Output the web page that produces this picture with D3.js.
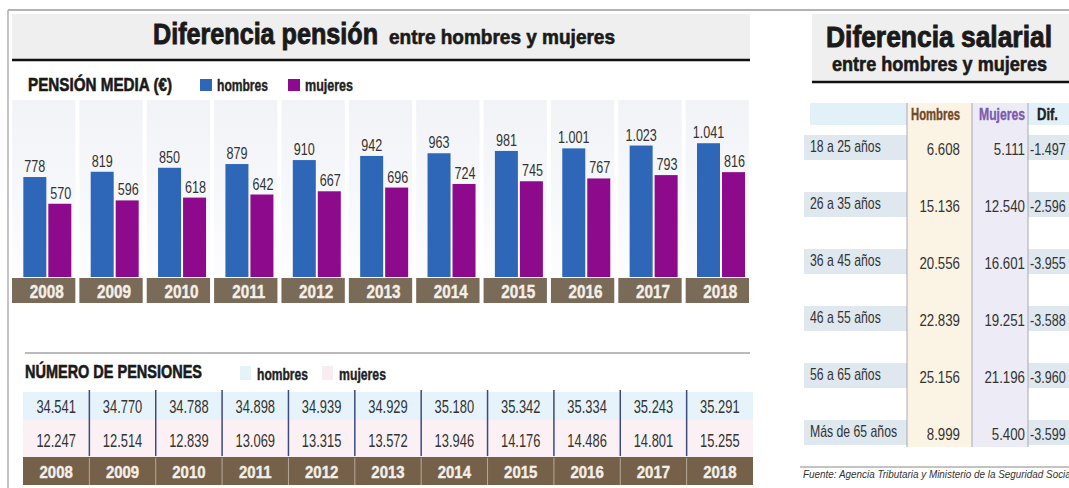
<!DOCTYPE html>
<html>
<head>
<meta charset="utf-8">
<script src="https://cdn.jsdelivr.net/npm/d3@7"></script>
<style>
  body { margin: 0; background: #fff; }
  svg { display: block; }
  text { font-family: "Liberation Sans", Arial, sans-serif; }
  .heavy { stroke: #1a1a1a; stroke-width: 0.9; paint-order: stroke; }
  .semi { stroke-width: 0.4; paint-order: stroke; }
</style>
</head>
<body>
<svg id="svg" width="1069" height="488"></svg>
<script>
// Datos
var years = [2008, 2009, 2010, 2011, 2012, 2013, 2014, 2015, 2016, 2017, 2018];
var pensionHombres = [778, 819, 850, 879, 910, 942, 963, 981, 1001, 1023, 1041];
var pensionMujeres = [570, 596, 618, 642, 667, 696, 724, 745, 767, 793, 816];
var numHombres = [34541, 34770, 34788, 34898, 34939, 34929, 35180, 35342, 35334, 35243, 35291];
var numMujeres = [12247, 12514, 12839, 13069, 13315, 13572, 13946, 14176, 14486, 14801, 15255];

var ageGroups = ["18 a 25 años", "26 a 35 años", "36 a 45 años", "46 a 55 años", "56 a 65 años", "Más de 65 años"];
var salHombres = [6608, 15136, 20556, 22839, 25156, 8999];
var salMujeres = [5111, 12540, 16601, 19251, 21196, 5400];
var salDif = [-1497, -2596, -3955, -3588, -3960, -3599];

var es = d3.formatLocale({decimal: ",", thousands: ".", grouping: [3], currency: ["", "€"], minus: "-"});
var fmt = es.format(",d");

var svg = d3.select("svg");
var BLUE = "#2f67b8", PURPLE = "#8e0a8c", BROWN = "#7a6a58";

// estrecha el texto (la fuente original es condensada)
function squeeze(sel, k) {
    sel.each(function () {
        var l = this.getComputedTextLength();
        d3.select(this).attr("textLength", l * k).attr("lengthAdjust", "spacingAndGlyphs");
    });
    return sel;
}
// ajusta el texto a un ancho fijo
function fit(sel, w) {
    return sel.attr("textLength", w).attr("lengthAdjust", "spacingAndGlyphs");
}

// Marco
svg.append("line").attr("x1", 8).attr("x2", 1069).attr("y1", 10).attr("y2", 10)
    .attr("stroke", "#9a9a9a").attr("stroke-width", 1.5);
svg.append("line").attr("x1", 8).attr("x2", 8).attr("y1", 10).attr("y2", 488)
    .attr("stroke", "#b0b0b0").attr("stroke-width", 1.5);

/*
 TITULO IZQUIERDA
 */
svg.append("rect").attr("x", 12).attr("y", 14).attr("width", 738).attr("height", 46).attr("fill", "#efefef");
svg.append("line").attr("x1", 12).attr("x2", 750).attr("y1", 60).attr("y2", 60)
    .attr("stroke", "#111").attr("stroke-width", 2.5);
fit(svg.append("text").attr("class", "heavy").attr("x", 153).attr("y", 44).attr("font-size", 29).attr("font-weight", "bold")
    .attr("fill", "#1a1a1a").text("Diferencia pensión"), 225);
fit(svg.append("text").attr("class", "heavy").attr("x", 389).attr("y", 44).attr("font-size", 20).attr("font-weight", "bold")
    .attr("fill", "#1a1a1a").style("stroke-width", 0.6).text("entre hombres y mujeres"), 226);

// Leyenda pension media
fit(svg.append("text").attr("class", "heavy").attr("x", 28).attr("y", 91).attr("font-size", 19).attr("font-weight", "bold")
    .attr("fill", "#1a1a1a").style("stroke-width", 0.6).text("PENSIÓN MEDIA (€)"), 144);
var leg = [{c: BLUE, t: "hombres", x: 200, w: 51}, {c: PURPLE, t: "mujeres", x: 288, w: 48}];
leg.forEach(function (d) {
    svg.append("rect").attr("x", d.x).attr("y", 79).attr("width", 12).attr("height", 12).attr("fill", d.c);
    fit(svg.append("text").attr("class", "semi").attr("x", d.x + 17).attr("y", 91).attr("font-size", 16).attr("font-weight", "bold")
        .attr("fill", "#222").attr("stroke", "#222").text(d.t), d.w);
});

/*
 BARRAS
 */
var x = d3.scaleBand().domain(years).range([12, 749]).paddingInner(0.06);
var xIn = d3.scaleBand().domain(["h", "m"]).range([x.bandwidth() - 52, x.bandwidth() - 4]).paddingInner(0.08);
var y = d3.scaleLinear().domain([0, 1000]).range([277, 148.5]);

var defs = svg.append("defs");
var grad = defs.append("linearGradient").attr("id", "colbg").attr("x1", 0).attr("x2", 0).attr("y1", 0).attr("y2", 1);
grad.append("stop").attr("offset", "0%").attr("stop-color", "#f2f3f7");
grad.append("stop").attr("offset", "45%").attr("stop-color", "#f6f7fa");
grad.append("stop").attr("offset", "100%").attr("stop-color", "#fdfdfe");

var groups = svg.append("g").selectAll("g").data(years).join("g")
    .attr("transform", function (d) { return "translate(" + x(d) + ",0)"; });

groups.append("rect").attr("x", 0).attr("y", 100).attr("width", x.bandwidth()).attr("height", 178)
    .attr("fill", "url(#colbg)");

groups.append("rect").attr("x", xIn("h")).attr("width", xIn.bandwidth())
    .attr("y", function (d, i) { return y(pensionHombres[i]); })
    .attr("height", function (d, i) { return y(0) - y(pensionHombres[i]); })
    .attr("fill", BLUE);
groups.append("rect").attr("x", xIn("m")).attr("width", xIn.bandwidth())
    .attr("y", function (d, i) { return y(pensionMujeres[i]); })
    .attr("height", function (d, i) { return y(0) - y(pensionMujeres[i]); })
    .attr("fill", PURPLE);

squeeze(groups.append("text").attr("x", xIn("h") + xIn.bandwidth() / 2).attr("text-anchor", "middle")
    .attr("y", function (d, i) { return y(pensionHombres[i]) - 5; })
    .attr("font-size", 17).attr("fill", "#333")
    .text(function (d, i) { return fmt(pensionHombres[i]); }), 0.74);
squeeze(groups.append("text").attr("x", xIn("m") + xIn.bandwidth() / 2 + 1).attr("text-anchor", "middle")
    .attr("y", function (d, i) { return y(pensionMujeres[i]) - 5; })
    .attr("font-size", 17).attr("fill", "#333")
    .text(function (d, i) { return fmt(pensionMujeres[i]); }), 0.74);

groups.append("rect").attr("x", 0).attr("y", 278).attr("width", x.bandwidth()).attr("height", 25).attr("fill", BROWN);
squeeze(groups.append("text").attr("class", "semi").attr("x", x.bandwidth() / 2 + 3).attr("y", 298).attr("text-anchor", "middle")
    .attr("font-size", 18).attr("font-weight", "bold").attr("fill", "#f3efe9").attr("stroke", "#f3efe9")
    .text(function (d) { return d; }), 0.85);

/*
 NUMERO DE PENSIONES
 */
svg.append("line").attr("x1", 25).attr("x2", 750).attr("y1", 353).attr("y2", 353)
    .attr("stroke", "#777").attr("stroke-width", 1);
fit(svg.append("text").attr("class", "heavy").attr("x", 25).attr("y", 378).attr("font-size", 19).attr("font-weight", "bold")
    .attr("fill", "#1a1a1a").style("stroke-width", 0.6).text("NÚMERO DE PENSIONES"), 177);
var leg2 = [{c: "#e4f2fa", t: "hombres", x: 240, w: 51}, {c: "#f8eef1", t: "mujeres", x: 322, w: 47}];
leg2.forEach(function (d) {
    svg.append("rect").attr("x", d.x).attr("y", 366).attr("width", 11).attr("height", 14).attr("fill", d.c);
    fit(svg.append("text").attr("class", "semi").attr("x", d.x + 17).attr("y", 380).attr("font-size", 16).attr("font-weight", "bold")
        .attr("fill", "#222").attr("stroke", "#222").text(d.t), d.w);
});

var x2 = d3.scaleBand().domain(years).range([23, 753]);
svg.append("rect").attr("x", 23).attr("y", 392).attr("width", 730).attr("height", 28).attr("fill", "#e6f3fb");
svg.append("rect").attr("x", 23).attr("y", 420).attr("width", 730).attr("height", 37).attr("fill", "#fbf1f4");
svg.append("rect").attr("x", 23).attr("y", 457).attr("width", 730).attr("height", 28).attr("fill", "#75614a");

var cells = svg.append("g").selectAll("g").data(years).join("g")
    .attr("transform", function (d) { return "translate(" + x2(d) + ",0)"; });
cells.filter(function (d, i) { return i > 0; }).append("line")
    .attr("x1", 0).attr("x2", 0).attr("y1", 390).attr("y2", 456)
    .attr("stroke", "#3d4a7e").attr("stroke-width", 1.5);
cells.filter(function (d, i) { return i > 0; }).append("line")
    .attr("x1", 0).attr("x2", 0).attr("y1", 458).attr("y2", 485)
    .attr("stroke", "#b7aa98").attr("stroke-width", 1);
squeeze(cells.append("text").attr("x", x2.bandwidth() / 2).attr("y", 413).attr("text-anchor", "middle")
    .attr("font-size", 19).attr("fill", "#333")
    .text(function (d, i) { return fmt(numHombres[i]); }), 0.68);
squeeze(cells.append("text").attr("x", x2.bandwidth() / 2).attr("y", 447).attr("text-anchor", "middle")
    .attr("font-size", 19).attr("fill", "#333")
    .text(function (d, i) { return fmt(numMujeres[i]); }), 0.68);
squeeze(cells.append("text").attr("class", "semi").attr("x", x2.bandwidth() / 2).attr("y", 478).attr("text-anchor", "middle")
    .attr("font-size", 17).attr("font-weight", "bold").attr("fill", "#f3efe9").attr("stroke", "#f3efe9")
    .text(function (d) { return d; }), 0.88);

/*
 DIFERENCIA SALARIAL (derecha)
 */
svg.append("rect").attr("x", 812).attr("y", 14).attr("width", 257).attr("height", 68).attr("fill", "#efefef");
svg.append("line").attr("x1", 812).attr("x2", 1069).attr("y1", 82).attr("y2", 82)
    .attr("stroke", "#111").attr("stroke-width", 2.5);
fit(svg.append("text").attr("class", "heavy").attr("x", 826).attr("y", 47).attr("font-size", 29)
    .attr("font-weight", "bold").attr("fill", "#1a1a1a").text("Diferencia salarial"), 226);
fit(svg.append("text").attr("class", "heavy").attr("x", 832).attr("y", 71).attr("font-size", 21)
    .attr("font-weight", "bold").attr("fill", "#1a1a1a").style("stroke-width", 0.6).text("entre hombres y mujeres"), 215);

var ry = d3.scaleBand().domain(ageGroups).range([135, 445]).paddingInner(0.561);

svg.append("rect").attr("x", 810).attr("y", 103).attr("width", 259).attr("height", 22).attr("fill", "#e2f0f8");
svg.selectAll(".rowbg").data(ageGroups).join("rect").attr("class", "rowbg")
    .attr("x", 804).attr("width", 265).attr("y", function (d) { return ry(d); })
    .attr("height", ry.bandwidth()).attr("fill", "#dfe7ef");
svg.append("rect").attr("x", 907).attr("y", 103).attr("width", 65).attr("height", 344).attr("fill", "#fbf3e3");
svg.append("rect").attr("x", 972).attr("y", 103).attr("width", 56).attr("height", 344).attr("fill", "#ecebf6");
[907, 972, 1028].forEach(function (lx) {
    svg.append("line").attr("x1", lx).attr("x2", lx).attr("y1", 103).attr("y2", 447)
        .attr("stroke", "#a9a9b4").attr("stroke-width", 1);
});

fit(svg.append("text").attr("class", "semi").attr("x", 911).attr("y", 120).attr("font-size", 16)
    .attr("font-weight", "bold").attr("fill", "#6e4a2b").attr("stroke", "#6e4a2b").text("Hombres"), 49);
fit(svg.append("text").attr("class", "semi").attr("x", 979).attr("y", 120).attr("font-size", 16)
    .attr("font-weight", "bold").attr("fill", "#7b5cae").attr("stroke", "#7b5cae").text("Mujeres"), 46);
fit(svg.append("text").attr("class", "semi").attr("x", 1037).attr("y", 120).attr("font-size", 16)
    .attr("font-weight", "bold").attr("fill", "#222").attr("stroke", "#222").text("Dif."), 21);

var rows = svg.append("g").selectAll("g").data(ageGroups).join("g")
    .attr("transform", function (d) { return "translate(0," + ry(d) + ")"; });
squeeze(rows.append("text").attr("x", 810).attr("y", 17).attr("font-size", 17).attr("fill", "#333")
    .text(function (d) { return d; }), 0.72);
squeeze(rows.append("text").attr("x", 960).attr("y", 20).attr("text-anchor", "end").attr("font-size", 17)
    .attr("fill", "#333").text(function (d, i) { return fmt(salHombres[i]); }), 0.78);
squeeze(rows.append("text").attr("x", 1025).attr("y", 20).attr("text-anchor", "end").attr("font-size", 17)
    .attr("fill", "#333").text(function (d, i) { return fmt(salMujeres[i]); }), 0.78);
squeeze(rows.append("text").attr("x", 1030).attr("y", 20).attr("font-size", 17)
    .attr("fill", "#333").text(function (d, i) { return fmt(salDif[i]); }), 0.74);

svg.append("line").attr("x1", 800).attr("x2", 1069).attr("y1", 467).attr("y2", 467)
    .attr("stroke", "#888").attr("stroke-width", 1);
fit(svg.append("text").attr("x", 803).attr("y", 478).attr("font-size", 11).attr("font-style", "italic")
    .attr("fill", "#333").text("Fuente: Agencia Tributaria y Ministerio de la Seguridad Social"), 270);
</script>
</body>
</html>
